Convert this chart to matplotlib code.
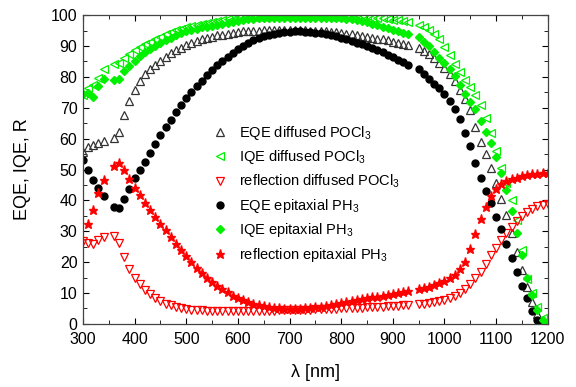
import numpy as np
import matplotlib

matplotlib.use("Agg")
import matplotlib.pyplot as plt

plt.rcParams['font.family'] = ['Liberation Sans', 'DejaVu Sans']
plt.rcParams['mathtext.default'] = 'regular'

# wavelength grid (nm) - gaps at 350 and 940 nm as in the measurement
wl = np.r_[300:341:10, 360:931:10, 950:1201:10]

# EQE epitaxial PH3 (filled circles)
eqe_epi = [53.0, 50.0, 46.6, 43.9, 41.5,
           38.0, 37.4, 40.3, 43.7, 47.1, 50.0, 52.5, 55.3, 58.3, 61.2,
           63.8, 66.0, 68.5, 70.9, 73.1, 75.1, 77.0, 78.7, 80.5, 82.1,
           83.7, 85.1, 86.4, 87.7, 88.9, 90.0, 90.9, 91.8, 92.6, 93.1,
           93.5, 93.9, 94.2, 94.4, 94.6, 94.7, 94.7, 94.6, 94.5, 94.3,
           94.1, 93.8, 93.5, 93.1, 92.7, 92.2, 91.7, 91.1, 90.5, 89.9,
           89.3, 88.6, 87.9, 87.1, 86.3, 85.5, 84.7, 84.0,
           82.4, 81.0, 79.4, 77.8, 76.3, 74.5, 72.3, 69.6, 66.5, 61.8,
           57.6, 52.0, 47.1, 43.2, 39.1, 34.7, 30.6, 26.0, 21.5, 16.7,
           12.3, 8.4, 4.3, 1.2, 0.2, 0.0]

# EQE diffused POCl3 (open triangles)
eqe_diff = [55.8, 57.4, 57.9, 58.7, 59.3,
            60.1, 62.2, 67.6, 72.3, 75.8, 78.6, 80.8, 82.5, 83.9, 85.2,
            86.4, 87.6, 88.6, 89.5, 90.3, 91.0, 91.6, 92.1, 92.6, 93.0,
            93.4, 93.7, 94.0, 94.3, 94.5, 94.7, 94.8, 94.9, 95.0, 95.1,
            95.1, 95.2, 95.2, 95.2, 95.2, 95.2, 95.1, 95.1, 95.0, 94.9,
            94.8, 94.7, 94.6, 94.4, 94.2, 94.0, 93.8, 93.6, 93.3, 93.0,
            92.7, 92.4, 92.1, 91.8, 91.4, 91.0, 90.6, 90.2,
            89.3, 88.5, 87.3, 86.0, 84.5, 82.8, 80.8, 78.5, 75.8, 72.8,
            69.3, 63.8, 58.8, 55.0, 50.5, 45.6, 40.6, 35.2, 29.3, 23.4,
            17.5, 12.0, 7.0, 3.2, 0.8, 0.0]

# IQE diffused POCl3 (open left triangles)
iqe_diff = [74.0, 76.3, 77.3, 79.5, 82.7,
            84.1, 84.4, 86.0, 87.4, 88.8, 89.8, 90.6, 91.4, 92.2, 93.0,
            93.8, 94.5, 95.1, 95.6, 96.1, 96.6, 96.9, 97.2, 97.5, 97.8,
            98.1, 98.4, 98.6, 98.8, 99.0, 99.2, 99.3, 99.4, 99.5, 99.5,
            99.6, 99.6, 99.6, 99.6, 99.6, 99.6, 99.6, 99.6, 99.6, 99.6,
            99.6, 99.6, 99.5, 99.5, 99.5, 99.4, 99.4, 99.3, 99.3, 99.2,
            99.1, 99.0, 98.9, 98.7, 98.5, 98.3, 98.1, 97.8,
            96.9, 96.2, 95.2, 94.0, 92.2, 89.8, 87.0, 84.3, 81.7, 79.1,
            76.6, 74.0, 70.8, 66.8, 61.8, 56.0, 50.6, 45.5, 40.0, 33.5,
            23.8, 14.5, 10.0, 5.6, 2.0, 0.3]

# IQE epitaxial PH3 (filled diamonds)
iqe_epi = [74.5, 74.8, 73.4, 77.0, 79.2,
           79.0, 79.2, 82.0, 83.4, 85.2, 86.8, 87.9, 89.0, 90.1, 91.0,
           91.8, 92.6, 93.4, 94.1, 94.7, 95.2, 95.6, 96.0, 96.3, 96.6,
           96.9, 97.2, 97.5, 97.8, 98.1, 98.4, 98.6, 98.8, 98.9, 99.0,
           99.1, 99.1, 99.1, 99.1, 99.1, 99.1, 99.1, 99.1, 99.1, 99.1,
           99.1, 99.1, 99.0, 99.0, 98.9, 98.8, 98.7, 98.5, 98.2, 97.7,
           97.1, 96.7, 96.3, 95.8, 95.3, 94.8, 94.3, 93.8,
           92.8, 91.4, 90.0, 88.2, 86.2, 84.6, 82.4, 80.2, 77.3, 74.3,
           71.8, 69.5, 65.6, 62.3, 58.5, 54.1, 48.8, 43.4, 36.5, 29.4,
           22.2, 14.8, 9.3, 4.5, 1.2, 0.0]

# reflection diffused POCl3 (open down triangles)
refl_diff = [27.0, 26.3, 25.9, 27.2, 28.3,
             28.5, 26.3, 21.8, 17.7, 14.8, 12.8, 11.1, 9.6, 8.4, 7.4,
             6.6, 6.0, 5.5, 5.1, 4.8, 4.6, 4.5, 4.4, 4.3, 4.3,
             4.2, 4.2, 4.2, 4.2, 4.2, 4.2, 4.2, 4.2, 4.3, 4.3,
             4.3, 4.3, 4.4, 4.4, 4.4, 4.5, 4.5, 4.6, 4.6, 4.7,
             4.7, 4.8, 4.9, 4.9, 5.0, 5.1, 5.1, 5.2, 5.3, 5.4,
             5.5, 5.5, 5.6, 5.7, 5.8, 5.9, 6.0, 6.1,
             6.3, 6.5, 6.7, 7.0, 7.3, 7.7, 8.3, 9.2, 10.1, 11.3,
             13.0, 14.8, 16.9, 19.5, 22.2, 24.7, 27.2, 29.4, 31.5, 33.3,
             34.9, 36.2, 37.3, 38.1, 38.6, 38.9]

# reflection epitaxial PH3 (stars)
refl_epi = [np.nan, 32.5, 36.9, 42.5, 46.6,
            51.2, 52.2, 50.0, 46.8, 44.0, 41.6, 39.2, 36.9, 34.7, 32.5,
            30.3, 28.2, 26.0, 23.9, 21.9, 19.9, 18.1, 16.6, 15.0, 13.6,
            12.3, 11.2, 10.2, 9.2, 8.3, 7.6, 7.0, 6.5, 6.1, 5.7,
            5.4, 5.2, 5.0, 4.9, 4.8, 4.8, 4.9, 5.0, 5.2, 5.4,
            5.6, 5.9, 6.2, 6.5, 6.8, 7.1, 7.4, 7.7, 8.0, 8.3,
            8.6, 8.8, 9.1, 9.4, 9.7, 10.0, 10.3, 10.5,
            11.3, 11.7, 12.1, 12.6, 13.1, 13.8, 14.8, 16.0, 17.8, 20.2,
            24.4, 29.2, 34.0, 38.0, 41.4, 43.7, 45.3, 46.4, 47.0, 47.4,
            47.8, 48.1, 48.4, 48.6, 48.8, 49.0]

green = '#00f000'
red = '#ff0000'

fig = plt.figure(figsize=(5.76, 3.87), dpi=100)
ax = fig.add_axes([0.144, 0.163, 0.807, 0.798])

ax.plot(wl, eqe_diff, '^', ms=5.5, mfc='none', mec='#333333', mew=0.9, ls='none',
        label='EQE diffused POCl$_3$')
ax.plot(wl, iqe_diff, '<', ms=5.5, mfc='none', mec=green, mew=0.9, ls='none',
        label='IQE diffused POCl$_3$')
ax.plot(wl, refl_diff, 'v', ms=5.5, mfc='none', mec=red, mew=0.9, ls='none',
        label='reflection diffused POCl$_3$')
ax.plot(wl, eqe_epi, 'o', ms=5, color='black', ls='none',
        label='EQE epitaxial PH$_3$')
ax.plot(wl, iqe_epi, 'D', ms=4.5, color=green, ls='none',
        label='IQE epitaxial PH$_3$')
ax.plot(wl, refl_epi, '*', ms=6.5, color=red, ls='none',
        label='reflection epitaxial PH$_3$')

ax.set_xlim(300, 1200)
ax.set_ylim(0, 100)
ax.set_xticks(np.arange(300, 1201, 100))
ax.set_xticks(np.arange(300, 1201, 50), minor=True)
ax.set_yticks(np.arange(0, 101, 10))
ax.set_yticks(np.arange(0, 101, 5), minor=True)
ax.tick_params(which='both', direction='in', top=True, right=True, labelsize=11.5)
ax.tick_params(which='major', length=4)
ax.tick_params(which='minor', length=3)
ax.tick_params(axis='x', pad=6)
ax.tick_params(axis='y', pad=4)
for s in ax.spines.values():
    s.set_color('#444444')
    s.set_linewidth(0.9)

ax.set_xlabel('λ [nm]', fontsize=13, labelpad=12)
ax.set_ylabel('EQE, IQE, R', fontsize=13, labelpad=14)

ax.legend(loc='upper left', bbox_to_anchor=(0.264, 0.672), frameon=False,
          fontsize=10.5, handlelength=1, handletextpad=0.8, borderpad=0,
          labelspacing=0.45)

fig.savefig('out.png', dpi=100)
